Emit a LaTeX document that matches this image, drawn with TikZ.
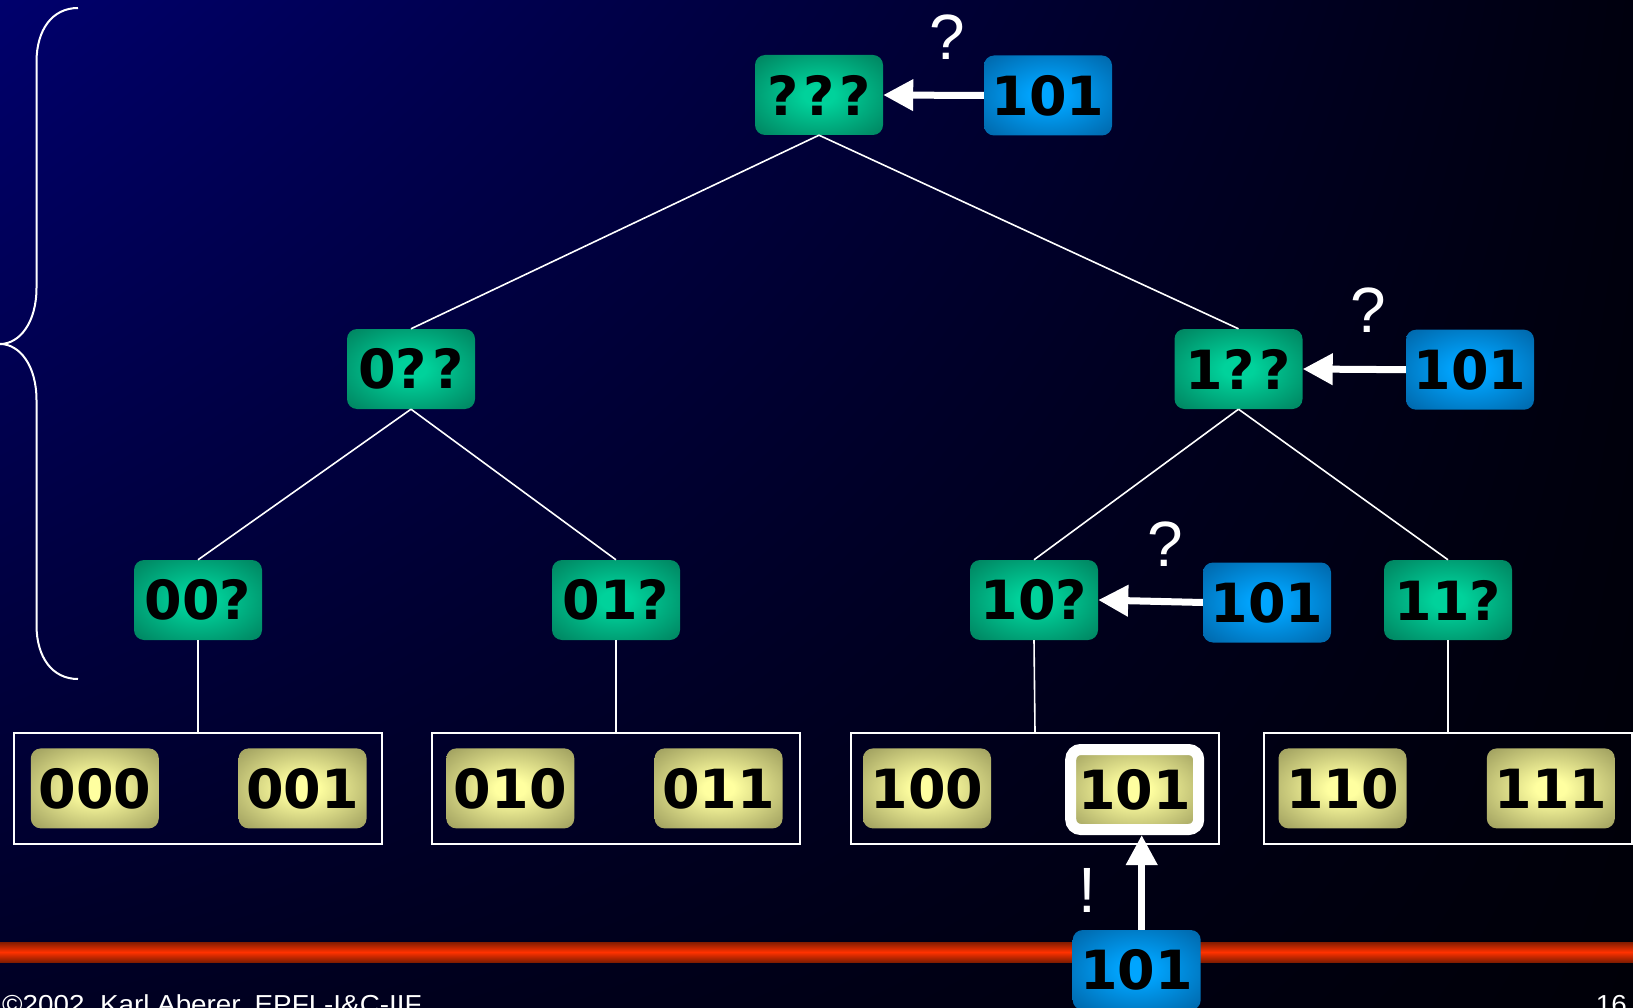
\documentclass[tikz,border=0pt]{standalone}
\usepackage{fontspec}
\setmainfont{Liberation Sans}
\newfontfamily\boxfont{DejaVu Sans}
\newfontfamily\footfont[FakeStretch=1.07]{Liberation Sans}
\usetikzlibrary{arrows.meta,calc,shadings}

% palette
\definecolor{bgUL}{RGB}{0,0,108}
\definecolor{bgUR}{RGB}{0,0,14}
\definecolor{bgLL}{RGB}{0,0,36}
\definecolor{bgLR}{RGB}{0,0,8}
\definecolor{gIn}{RGB}{0,210,155}
\definecolor{gOut}{RGB}{0,90,64}
\definecolor{bIn}{RGB}{0,165,255}
\definecolor{bOut}{RGB}{0,70,125}
\definecolor{yIn}{RGB}{255,255,160}
\definecolor{yOut}{RGB}{108,108,60}
\definecolor{rEdge}{RGB}{130,28,0}
\definecolor{rMid}{RGB}{255,50,0}

% soft glow inside the key boxes
\pgfdeclareradialshading{greenglow}{\pgfpoint{0bp}{0bp}}{color(0bp)=(gIn); color(6bp)=(gIn); color(50bp)=(gOut)}
\pgfdeclareradialshading{blueglow}{\pgfpoint{0bp}{0bp}}{color(0bp)=(bIn); color(6bp)=(bIn); color(50bp)=(bOut)}
\pgfdeclareradialshading{yellowglow}{\pgfpoint{0bp}{0bp}}{color(0bp)=(yIn); color(6bp)=(yIn); color(50bp)=(yOut)}

\tikzset{
  keybox/.style={rectangle, rounded corners=10pt, minimum width=128pt, minimum height=80pt,
    inner sep=0pt, text=black, font=\boxfont\bfseries\fontsize{54}{54}\selectfont},
  trienode/.style={keybox, shading=greenglow},
  querykey/.style={keybox, shading=blueglow},
  leafkey/.style={keybox, shading=yellowglow},
  hitkey/.style={draw=white, line width=11pt},
  bucket/.style={draw=white, line width=1.8pt, minimum width=368pt, minimum height=111pt, inner sep=0pt},
  treeline/.style={white, line width=1.6pt},
  probe/.style={white, line width=7pt, line cap=round, -{Triangle[length=30pt,width=30pt]}},
  qmark/.style={text=white, inner sep=0pt, font=\fontsize{64}{64}\selectfont},
  footer/.style={inner sep=0pt, text=white, font=\footfont\fontsize{26}{26}\selectfont},
}

\begin{document}
\begin{tikzpicture}[x=1pt, y=-1pt]
\useasboundingbox (0,0) rectangle (1633,1008);
\shade[upper left=bgUL, upper right=bgUR, lower left=bgLL, lower right=bgLR] (0,0) rectangle (1633,1008);

% red bus line
\shade[top color=rEdge, bottom color=rEdge, middle color=rMid] (0,942) rectangle (1633,962);

% brace
\draw[white, line width=2pt] (78,8) .. controls (52,8) and (36.5,30) .. (36.5,62) -- (36.5,288)
  .. controls (36.5,322) and (20,344) .. (0,344)
  .. controls (20,344) and (36.5,366) .. (36.5,400) -- (36.5,625)
  .. controls (36.5,657) and (52,679) .. (78,679);

% tree nodes
\node[trienode] (root) at (819,95) {?\kern5pt?\kern5pt?};
\node[trienode] (n0) at (411,369) {0?\kern5pt?};
\node[trienode] (n1) at (1238.5,369) {1?\kern5pt?};
\node[trienode] (n00) at (198,600) {00?};
\node[trienode] (n01) at (616,600) {01?};
\node[trienode] (n10) at (1034,600) {10?};
\node[trienode] (n11) at (1448,600) {11?};

% buckets
\node[bucket] (b0) at (198,788.4) {};
\node[bucket] (b1) at (616,788.4) {};
\node[bucket] (b2) at (1035,788.4) {};
\node[bucket] (b3) at (1448,788.4) {};

% tree edges
\draw[treeline] (root.south) -- (n0.north);
\draw[treeline] (root.south) -- (n1.north);
\draw[treeline] (n0.south) -- (n00.north);
\draw[treeline] (n0.south) -- (n01.north);
\draw[treeline] (n1.south) -- (n10.north);
\draw[treeline] (n1.south) -- (n11.north);
\draw[treeline] (n00.south) -- (b0.north);
\draw[treeline] (n01.south) -- (b1.north);
\draw[treeline] (n10.south) -- (b2.north);
\draw[treeline] (n11.south) -- (b3.north);

% stored keys
\node[leafkey] (k000) at (94.8,788.4) {000};
\node[leafkey] (k001) at (302.6,788.4) {001};
\node[leafkey] (k010) at (510.3,788.4) {010};
\node[leafkey] (k011) at (718.6,788.4) {011};
\node[leafkey] (k100) at (927,788.4) {100};
\node[leafkey, hitkey] (k101) at (1134.7,789.5) {101};
\node[leafkey] (k110) at (1342.5,788.4) {110};
\node[leafkey] (k111) at (1550.8,788.4) {111};

% query key travelling down
\coordinate (qa) at (1048,95.5);
\coordinate (qb) at (1470,369.7);
\coordinate (qc) at (1267,602.5);
\coordinate (qd) at (1136.7,970);
\draw[probe] ($(qa)+(-64,0)$) -- (root.east);
\draw[probe] ($(qb)+(-64,0)$) -- (n1.east);
\draw[probe] ($(qc)+(-64,0)$) -- (n10.east);
\draw[probe] ($(qd)+(5,-40)$) -- ($(k101.south)+(7,0)$);
\node[querykey] (q1) at (qa) {101};
\node[querykey] (q2) at (qb) {101};
\node[querykey] (q3) at (qc) {101};
\node[querykey] (q4) at (qd) {101};

% step labels
\node[qmark] (m1) at (947.5,37.5) {?};
\node[qmark] (m2) at (1368.5,310) {?};
\node[qmark] (m3) at (1165.5,544) {?};
\node[qmark] (m4) at (1087.5,890) {!};

% footer
\node[footer, anchor=base west] (credit) at (2,1013) {\textcopyright2002, Karl Aberer, EPFL-I\&C-IIF,};
\node[footer, anchor=base east] (page) at (1627,1013) {16};
\end{tikzpicture}
\end{document}
